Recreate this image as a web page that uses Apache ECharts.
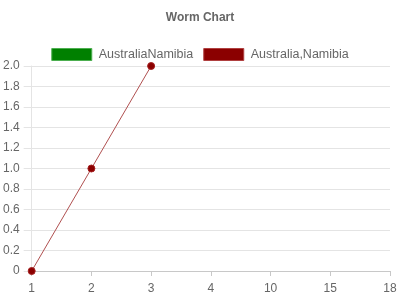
<!DOCTYPE html>
<html><head><meta charset="utf-8">
<script src="https://cdn.jsdelivr.net/npm/echarts@6/dist/echarts.min.js"></script>
<style>html,body{margin:0;padding:0;background:#fff}#c{width:400px;height:300px}</style>
</head><body><div id="c"></div>
<script>
var categories = ['1','2','3','4','10','15','18'];
var seriesNames = ['AustraliaNamibia','Australia,Namibia'];
var seriesA = [];
var seriesB = [0, 1, 2];
var yTicks = [0, 0.2, 0.4, 0.6, 0.8, 1.0, 1.2, 1.4, 1.6, 1.8, 2.0];

var chart = echarts.init(document.getElementById('c'));
chart.setOption({
  animation: false,
  title: { text: 'Worm Chart', left: 'center', top: 7,
    textStyle: { fontFamily: 'Arial, Liberation Sans', fontSize: 12, fontWeight: 'bold', color: '#666' } },
  legend: {
    top: 43, left: 'center', itemWidth: 40, itemHeight: 12, itemGap: 10,
    textStyle: { fontFamily: 'Arial, Liberation Sans', fontSize: 12.5, color: '#666', padding: [0, 0, 0, 2] },
    data: [
      { name: seriesNames[0], icon: 'rect', itemStyle: { color: '#008000', borderColor: '#4caf50', borderWidth: 1 } },
      { name: seriesNames[1], icon: 'rect', itemStyle: { color: '#8b0000', borderColor: '#b04040', borderWidth: 1 } }
    ]
  },
  grid: { left: 31, right: 10, top: 66, bottom: 29, containLabel: false },
  xAxis: {
    type: 'category', data: categories, boundaryGap: false,
    axisLine: { lineStyle: { color: '#c8c8c8' } },
    axisTick: { show: true, length: 5, lineStyle: { color: '#c8c8c8' } },
    axisLabel: { color: '#666', fontFamily: 'Arial, Liberation Sans', fontSize: 12, margin: 12 },
    splitLine: { show: false }
  },
  yAxis: {
    type: 'value', min: yTicks[0], max: yTicks[yTicks.length-1], interval: 0.2,
    axisLine: { show: true, lineStyle: { color: '#e4e4e4' } },
    axisTick: { show: true, length: 8, lineStyle: { color: '#e4e4e4' } },
    axisLabel: { color: '#666', fontFamily: 'Arial, Liberation Sans', fontSize: 12, margin: 12,
      formatter: function(v){ return v === 0 ? '0' : v.toFixed(1); } },
    splitLine: { show: true, lineStyle: { color: '#e4e4e4' } }
  },
  series: [
    { name: seriesNames[0], type: 'line', data: seriesA, itemStyle: { color: '#008000' } },
    { name: seriesNames[1], type: 'line', data: seriesB, symbol: 'circle', symbolSize: 7,
      itemStyle: { color: '#8b0000', borderColor: '#a52020', borderWidth: 1 },
      lineStyle: { color: '#b05050', width: 1 } }
  ]
});
</script></body></html>
